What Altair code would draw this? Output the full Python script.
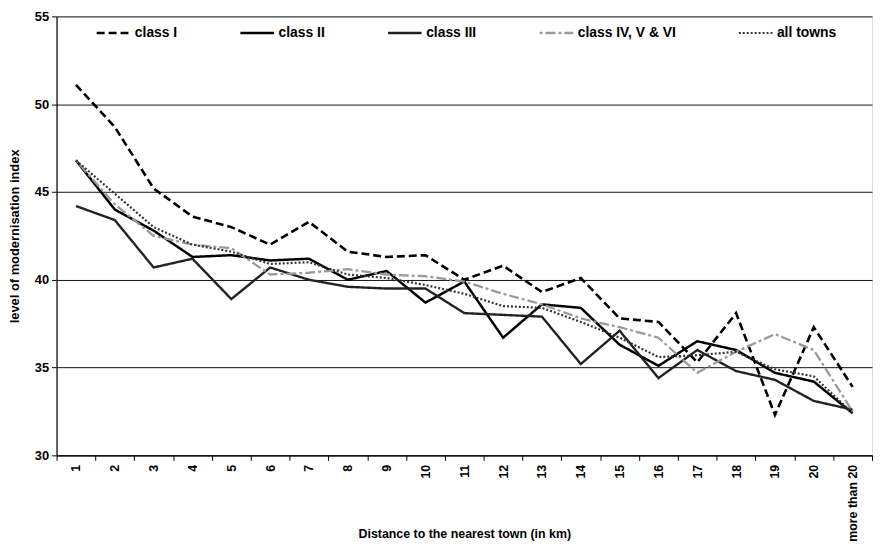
import altair as alt
import pandas as pd

distances = [str(i) for i in range(1, 21)] + ["more than 20"]

class_1 = [51.1, 48.7, 45.2, 43.6, 43.0, 42.0, 43.3, 41.6, 41.3, 41.4, 40.0,
           40.8, 39.3, 40.1, 37.8, 37.6, 35.3, 38.1, 32.3, 37.3, 33.9]
class_2 = [46.8, 44.0, 42.8, 41.3, 41.4, 41.1, 41.2, 40.0, 40.5, 38.7, 39.9,
           36.7, 38.6, 38.4, 36.3, 35.1, 36.5, 36.0, 34.7, 34.2, 32.4]
class_3 = [44.2, 43.4, 40.7, 41.2, 38.9, 40.7, 40.0, 39.6, 39.5, 39.5, 38.1,
           38.0, 37.9, 35.2, 37.1, 34.4, 36.0, 34.8, 34.3, 33.1, 32.6]
class_4 = [46.8, 44.3, 42.5, 42.0, 41.8, 40.3, 40.4, 40.6, 40.3, 40.2, 39.9,
           39.2, 38.6, 37.8, 37.3, 36.7, 34.7, 35.9, 36.9, 36.0, 32.5]
all_towns = [46.8, 44.9, 43.0, 42.0, 41.6, 40.9, 41.0, 40.3, 40.1, 39.7, 39.2,
             38.5, 38.4, 37.6, 36.7, 35.6, 35.7, 35.9, 34.9, 34.5, 32.4]

series_names = ["class I", "class II", "class III", "class IV, V & VI", "all towns"]
series_values = [class_1, class_2, class_3, class_4, all_towns]
series_colors = ["#000000", "#000000", "#222222", "#9a9a9a", "#333333"]
series_dash = [[8, 4], [1, 0], [1, 0], [3, 3, 10, 3], [2, 2]]
series_width = [2.6, 2.2, 1.3, 0.9, 1.6]

rows = []
for name, vals in zip(series_names, series_values):
    for d, v in zip(distances, vals):
        rows.append({"distance": d, "value": v, "series": name})
df = pd.DataFrame(rows)

FONT = "Liberation Sans"


def make_legend():
    return alt.Legend(title=None, orient="none", direction="horizontal",
                      legendX=39, legendY=-2, padding=0,
                      symbolType="stroke", symbolSize=1150,
                      labelFont=FONT, labelFontSize=14,
                      labelFontWeight="bold", labelColor="#000",
                      columnPadding=58, labelOffset=3)


chart = alt.Chart(df).mark_line(strokeJoin="miter", strokeCap="butt").encode(
    x=alt.X("distance:N", sort=distances,
            scale=alt.Scale(type="band", paddingInner=0, paddingOuter=0),
            axis=alt.Axis(title="Distance to the nearest town (in km)",
                          labelAngle=-90, labelFontSize=12.5, labelFontWeight="bold",
                          labelFont=FONT, labelColor="#000", labelPadding=4,
                          tickBand="extent", tickSize=5, tickColor="#000",
                          domainColor="#000", domainWidth=1.2, grid=False,
                          titleFont=FONT, titleFontSize=12.5, titleFontWeight="bold",
                          titleColor="#000", titleY=73, titleBaseline="top")),
    y=alt.Y("value:Q",
            scale=alt.Scale(domain=[30, 55], nice=False, zero=False),
            axis=alt.Axis(title="level of modernisation index",
                          values=[30, 35, 40, 45, 50, 55],
                          labelFontSize=13, labelFontWeight="bold", labelFont=FONT,
                          labelColor="#000", labelPadding=3,
                          tickSize=5, tickColor="#000", domainColor="#000",
                          domainWidth=1.2, grid=True, gridColor="#111",
                          gridWidth=1,
                          titleFont=FONT, titleFontSize=13, titleFontWeight="bold",
                          titleColor="#000", titlePadding=13)),
    color=alt.Color("series:N", sort=series_names,
                    scale=alt.Scale(domain=series_names, range=series_colors),
                    legend=make_legend()),
    strokeDash=alt.StrokeDash("series:N", sort=series_names,
                              scale=alt.Scale(domain=series_names, range=series_dash),
                              legend=make_legend()),
    strokeWidth=alt.StrokeWidth("series:N", sort=series_names,
                                scale=alt.Scale(domain=series_names, range=series_width),
                                legend=make_legend()),
).properties(
    width=823, height=443,
    autosize=alt.AutoSizeParams(type="none"),
    padding={"left": 49, "top": 6, "right": 2, "bottom": 88},
).configure_view(stroke="#000", strokeWidth=1.2).configure(background="white")

chart.save("out.html", embed_options={"renderer": "svg", "actions": False})
